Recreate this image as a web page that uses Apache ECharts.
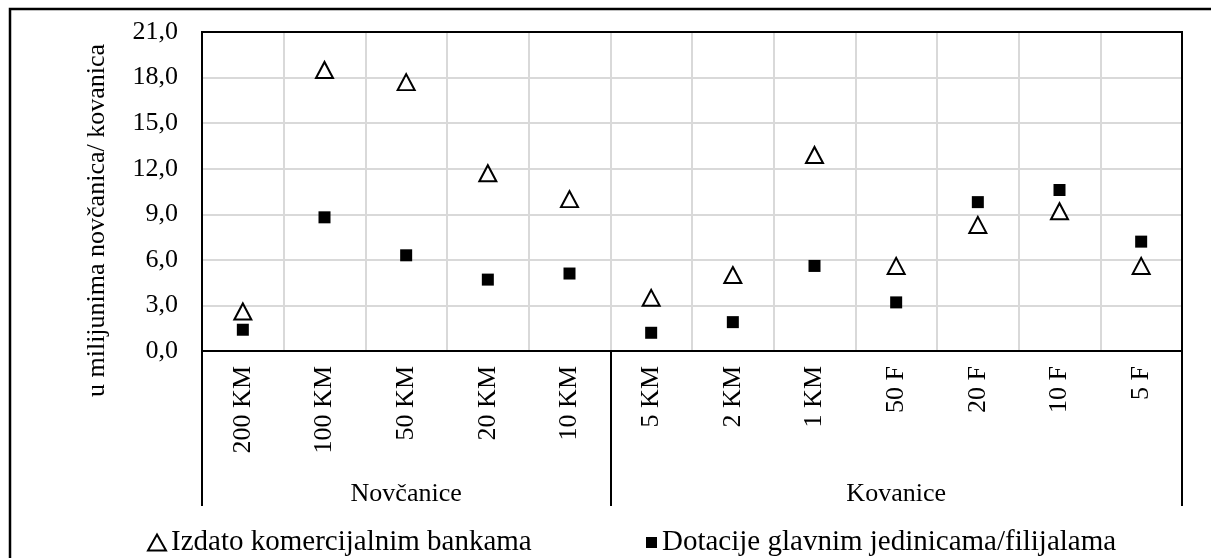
<!DOCTYPE html>
<html>
<head>
<meta charset="utf-8">
<script src="https://cdn.jsdelivr.net/npm/echarts@6/dist/echarts.min.js"></script>
<style>
html,body{margin:0;padding:0;background:#fff;}
#chart{width:1211px;height:558px;}
</style>
</head>
<body>
<div id="chart"></div>
<script>
const categories = ['200 KM','100 KM','50 KM','20 KM','10 KM','5 KM','2 KM','1 KM','50 F','20 F','10 F','5 F'];
const groupNames = ['Novčanice','Kovanice'];
const groupSizes = [5,7];
const izdato = [2.6,18.5,17.7,11.7,10.0,3.5,5.0,12.9,5.6,8.3,9.2,5.6];
const dotacije = [1.4,8.8,6.3,4.7,5.1,1.2,1.9,5.6,3.2,9.8,10.6,7.2];
const seriesNames = ['Izdato komercijalnim bankama','Dotacije glavnim jedinicama/filijalama'];
const yTitle = 'u milijunima novčanica/ kovanica';

const FONT = 'Liberation Serif';
const FS = 26;
// build group label axis: label at the middle category of each group
const groupAxisData = [];
const groupStarts = [];
let start = 0;
groupSizes.forEach((n, gi) => {
  groupStarts.push(start);
  for (let k = 0; k < n; k++) {
    groupAxisData.push(k === Math.floor(n / 2) ? groupNames[gi] : '');
  }
  start += n;
});

const G = {left: 202, top: 32, right: 29, bottom: 207};

const chart = echarts.init(document.getElementById('chart'), null, {renderer: 'canvas'});
chart.setOption({
  animation: false,
  backgroundColor: '#fff',
  textStyle: {fontFamily: FONT, color: '#000'},
  grid: {left: G.left, top: G.top, right: G.right, bottom: G.bottom, containLabel: false},
  xAxis: [{
    type: 'category',
    data: categories,
    boundaryGap: true,
    position: 'bottom',
    axisLine: {show: true, lineStyle: {color: '#000', width: 2}},
    axisTick: {show: false},
    axisLabel: {interval: 0, rotate: 90, margin: 15, fontFamily: FONT, fontSize: FS, color: '#000'},
    splitLine: {show: true, interval: 0, lineStyle: {color: '#d9d9d9', width: 2}}
  }, {
    type: 'category',
    data: groupAxisData,
    boundaryGap: true,
    position: 'bottom',
    axisLine: {show: false},
    axisTick: {show: true, length: 155, interval: (i) => groupStarts.indexOf(i) >= 0, lineStyle: {color: '#000', width: 2}},
    axisLabel: {interval: 0, margin: 130, fontFamily: FONT, fontSize: FS, color: '#000'},
    splitLine: {show: false}
  }],
  yAxis: {
    type: 'value',
    min: 0, max: 21, interval: 3,
    name: yTitle,
    nameLocation: 'middle',
    nameGap: 92,
    nameTextStyle: {fontFamily: FONT, fontSize: FS, color: '#000', padding: [0, 58, 0, 0]},
    axisLine: {show: true, lineStyle: {color: '#000', width: 2}},
    axisTick: {show: false},
    axisLabel: {margin: 24, fontFamily: FONT, fontSize: FS, color: '#000',
      formatter: (v) => v.toFixed(1).replace('.', ',')},
    splitLine: {show: true, lineStyle: {color: '#d9d9d9', width: 2}}
  },
  legend: [{
    data: [seriesNames[0]],
    left: 142, top: 523,
    itemWidth: 18, itemHeight: 16,
    textStyle: {fontFamily: FONT, fontSize: 29, color: '#000'}
  }, {
    data: [seriesNames[1]],
    left: 641, top: 523,
    itemWidth: 11, itemHeight: 11,
    textStyle: {fontFamily: FONT, fontSize: 29, color: '#000'}
  }],
  series: [{
    name: seriesNames[0],
    type: 'scatter',
    xAxisIndex: 0,
    symbol: 'triangle',
    symbolSize: [17, 16],
    itemStyle: {color: '#fff', borderColor: '#000', borderWidth: 2, opacity: 1},
    data: izdato,
    z: 3
  }, {
    name: seriesNames[1],
    type: 'scatter',
    xAxisIndex: 0,
    symbol: 'rect',
    symbolSize: 12,
    itemStyle: {color: '#000', opacity: 1},
    data: dotacije,
    z: 4
  }],
  graphic: [{
    type: 'rect', silent: true, z: 100,
    shape: {x: G.left, y: G.top, width: 1211 - G.left - G.right, height: 558 - G.top - G.bottom},
    style: {fill: 'none', stroke: '#000', lineWidth: 2}
  }, {
    type: 'rect', silent: true, z: 100,
    shape: {x: 10, y: 9, width: 1300, height: 700},
    style: {fill: 'none', stroke: '#000', lineWidth: 2.5}
  }]
});
</script>
</body>
</html>
